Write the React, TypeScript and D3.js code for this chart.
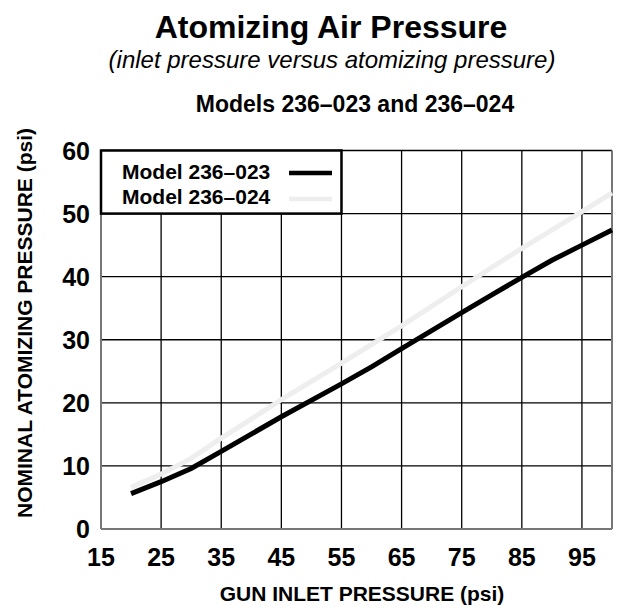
import React from "react";
import * as d3 from "d3";

const xTicks = [15, 25, 35, 45, 55, 65, 75, 85, 95];
const yTicks = [0, 10, 20, 30, 40, 50, 60];

const inlet023 = [20, 25, 30, 35, 45, 55, 60, 65, 75, 80, 85, 90, 95, 100];
const atom023 = [5.6, 7.5, 9.6, 12.3, 17.8, 23.0, 25.7, 28.6, 34.3, 37.1, 39.9, 42.6, 45.0, 47.4];

const inlet024 = [20, 25, 30, 35, 45, 55, 65, 75, 85, 95, 100];
const atom024 = [6.6, 8.7, 11.2, 14.4, 20.5, 26.3, 32.2, 38.4, 44.5, 50.3, 53.3];

const seriesNames = ["Model 236–023", "Model 236–024"];
const seriesColors = ["#000000", "#eeeeee"];

const FONT = "'Liberation Sans', Arial, Helvetica, sans-serif";

export default function App() {
  const x = d3.scaleLinear().domain([15, 100]).range([101, 612]);
  const y = d3.scaleLinear().domain([0, 60]).range([529, 150.5]);

  const line = d3
    .line<[number, number]>()
    .x((d) => x(d[0]))
    .y((d) => y(d[1]));

  const s023: [number, number][] = inlet023.map((v, i) => [v, atom023[i]]);
  const s024: [number, number][] = inlet024.map((v, i) => [v, atom024[i]]);

  const [x0, x1] = x.range();
  const [y0, y1] = y.range();

  return (
    <svg
      width={624}
      height={610}
      style={{ position: "absolute", left: 0, top: 0, background: "#fff" }}
      fontFamily={FONT}
    >
      <rect x={0} y={0} width={624} height={610} fill="#fff" />
      {/* titles */}
      <text x={331} y={38} textAnchor="middle" fontSize={32} fontWeight="bold">
        Atomizing Air Pressure
      </text>
      <text x={332} y={68} textAnchor="middle" fontSize={24} fontStyle="italic">
        (inlet pressure versus atomizing pressure)
      </text>
      <text x={355} y={112} textAnchor="middle" fontSize={23} fontWeight="bold">
        Models 236–023 and 236–024
      </text>

      {/* grid */}
      {xTicks.slice(1).map((t) => (
        <line key={"gx" + t} x1={x(t)} x2={x(t)} y1={y1} y2={y0} stroke="#000" strokeWidth={1.3} />
      ))}
      {yTicks.slice(1).map((t) => (
        <line key={"gy" + t} x1={x0} x2={x1} y1={y(t)} y2={y(t)} stroke="#000" strokeWidth={1.3} />
      ))}

      {/* frame */}
      <line x1={x0} x2={x0} y1={y1} y2={y0} stroke="#777" strokeWidth={2} />
      <line x1={x0} x2={x1} y1={y0} y2={y0} stroke="#777" strokeWidth={2} />
      <line x1={x1} x2={x1} y1={y1} y2={y0} stroke="#777" strokeWidth={2} />

      {/* series */}
      <path d={line(s024) || ""} fill="none" stroke={seriesColors[1]} strokeWidth={5} />
      <path d={line(s023) || ""} fill="none" stroke={seriesColors[0]} strokeWidth={5} />

      {/* y tick labels */}
      {yTicks.map((t) => (
        <text key={"yl" + t} x={90} y={y(t) + 9} textAnchor="end" fontSize={25} fontWeight="bold">
          {t}
        </text>
      ))}
      {/* x tick labels */}
      {xTicks.map((t) => (
        <text key={"xl" + t} x={x(t)} y={566} textAnchor="middle" fontSize={25} fontWeight="bold">
          {t}
        </text>
      ))}

      {/* axis titles */}
      <text x={362} y={601} textAnchor="middle" fontSize={21} fontWeight="bold">
        GUN INLET PRESSURE (psi)
      </text>
      <text
        transform={`translate(32, 323) rotate(-90)`}
        textAnchor="middle"
        fontSize={21}
        fontWeight="bold"
      >
        NOMINAL ATOMIZING PRESSURE (psi)
      </text>

      {/* legend */}
      <rect x={x0} y={y(60)} width={x(55) - x0} height={y(50) - y(60)} fill="#fff" stroke="#000" strokeWidth={2.5} />
      {seriesNames.map((n, i) => (
        <g key={n}>
          <text x={122} y={179 + i * 25} fontSize={21} fontWeight="bold">
            {n}
          </text>
          <line x1={289} x2={332} y1={173 + i * 26} y2={173 + i * 26} stroke={seriesColors[i]} strokeWidth={4.5} />
        </g>
      ))}
    </svg>
  );
}
